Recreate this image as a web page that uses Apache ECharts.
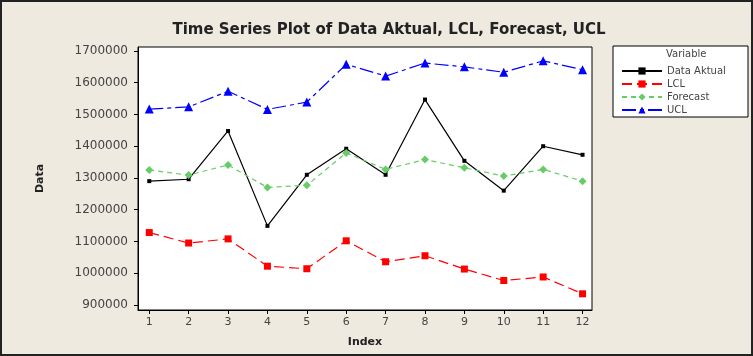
<!DOCTYPE html>
<html>
<head>
<meta charset="utf-8">
<script src="https://cdn.jsdelivr.net/npm/echarts@6/dist/echarts.min.js"></script>
<style>
html,body{margin:0;padding:0;background:#EEEAE0;}
#c{width:753px;height:356px;}
</style>
</head>
<body>
<div id="c"></div>
<script>
var indexes = [1,2,3,4,5,6,7,8,9,10,11,12];
var dataAktual = [1290000,1296000,1448000,1149000,1310000,1392000,1310000,1547000,1354000,1260000,1400000,1373000];
var lcl = [1128000,1095000,1108000,1022000,1014000,1102000,1036000,1055000,1013000,977000,988000,935000];
var forecast = [1325000,1309000,1341000,1270000,1277000,1379000,1327000,1358000,1332000,1306000,1327000,1290000];
var ucl = [1517000,1524000,1573000,1516000,1539000,1658000,1621000,1662000,1650000,1633000,1669000,1641000];
var yTicks = [900000,1000000,1100000,1200000,1300000,1400000,1500000,1600000,1700000];

function pairs(v){ return indexes.map(function(x,i){ return [x, v[i]]; }); }

var chart = echarts.init(document.getElementById('c'));
var tickFont = {fontFamily:'DejaVu Sans', fontSize:11, color:'#444'};
chart.setOption({
  animation:false,
  backgroundColor:'#EEEAE0',
  title:{
    text:'Time Series Plot of Data Aktual, LCL, Forecast, UCL',
    left:384, top:18, textAlign:'center',
    textStyle:{fontFamily:'DejaVu Sans', fontWeight:'bold', fontSize:15, color:'#222'}
  },
  grid:{left:138, top:47, right:161, bottom:46, show:true, backgroundColor:'#fff', borderColor:'#000', borderWidth:1},
  xAxis:{
    type:'value', min:0.714, max:12.24,
    name:'Index', nameLocation:'middle', nameGap:27,
    nameTextStyle:{fontFamily:'DejaVu Sans', fontWeight:'bold', fontSize:11, color:'#222'},
    axisLine:{show:true, lineStyle:{color:'#000'}},
    axisTick:{show:true, length:4, customValues:indexes, lineStyle:{color:'#000'}},
    axisLabel:Object.assign({customValues:indexes, margin:7}, tickFont),
    splitLine:{show:false}
  },
  yAxis:{
    type:'value', min:884000, max:1712600,
    name:'Data', nameLocation:'middle', nameGap:92, nameRotate:90,
    nameTextStyle:{fontFamily:'DejaVu Sans', fontWeight:'bold', fontSize:11, color:'#222'},
    axisLine:{show:true, lineStyle:{color:'#000'}},
    axisTick:{show:true, length:4, customValues:yTicks, lineStyle:{color:'#000'}},
    axisLabel:Object.assign({customValues:yTicks, margin:10, formatter:function(v){return String(Math.round(v));}}, tickFont, {fontSize:12}),
    splitLine:{show:false}
  },
  legend:{
    orient:'vertical', left:616, top:61, itemWidth:40, itemHeight:9, itemGap:3,
    textStyle:{fontFamily:'DejaVu Sans', fontSize:10, color:'#444'},
    data:['Data Aktual','LCL','Forecast','UCL']
  },
  graphic:[
    {type:'rect', z:-1, shape:{x:613, y:46, width:135, height:71}, style:{fill:'#fff', stroke:'#000', lineWidth:1}},
    {type:'text', left:666, top:49, style:{text:'Variable', font:'10px "DejaVu Sans"', fill:'#444'}},
    {type:'rect', shape:{x:1, y:1, width:751, height:354}, style:{fill:'none', stroke:'#222', lineWidth:2}}
  ],
  series:[
    {name:'Data Aktual', type:'line', data:pairs(dataAktual), symbol:'rect', symbolSize:4,
     itemStyle:{color:'#000'}, lineStyle:{color:'#000', width:1.2}},
    {name:'LCL', type:'line', data:pairs(lcl), symbol:'rect', symbolSize:7,
     itemStyle:{color:'#FF0000'}, lineStyle:{color:'#FF0000', width:1.2, type:[10,5]}},
    {name:'Forecast', type:'line', data:pairs(forecast), symbol:'diamond', symbolSize:8,
     itemStyle:{color:'#66CC66'}, lineStyle:{color:'#66CC66', width:1.2, type:[5,4]}},
    {name:'UCL', type:'line', data:pairs(ucl), symbol:'triangle', symbolSize:9,
     itemStyle:{color:'#0000FF'}, lineStyle:{color:'#0000FF', width:1.2, type:[14,4,4,4]}}
  ]
});
</script>
</body>
</html>
